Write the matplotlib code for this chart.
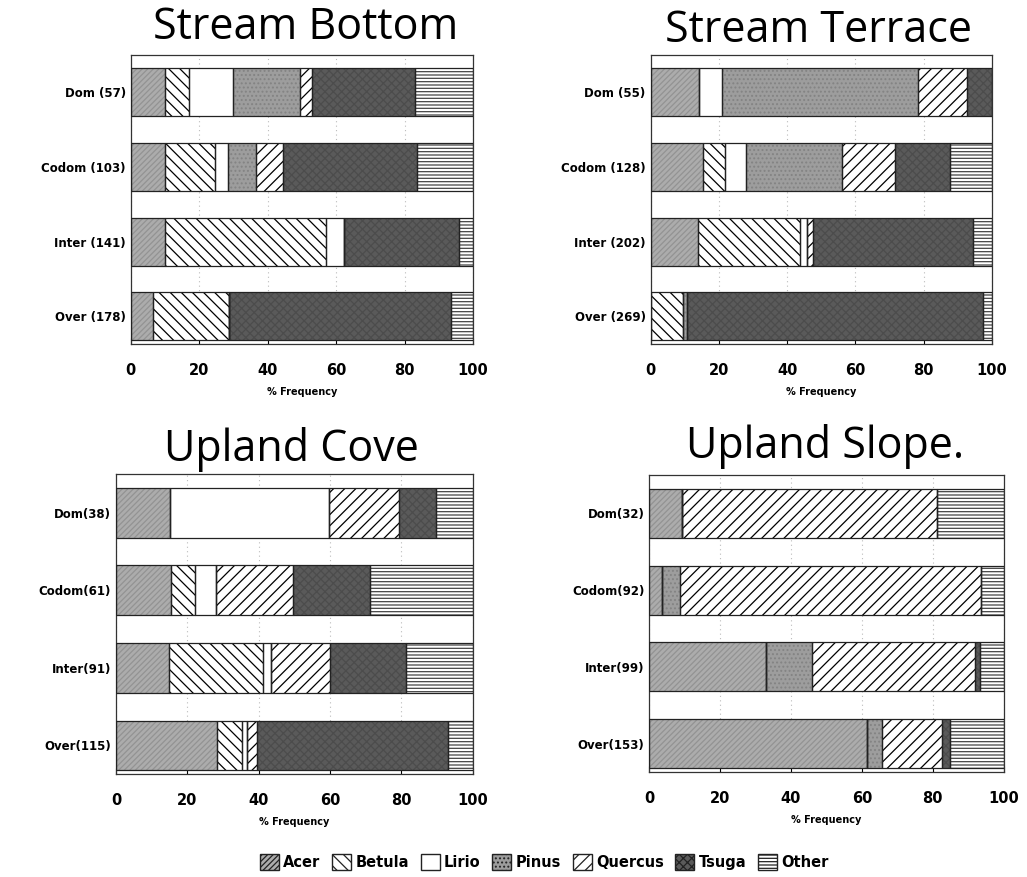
import matplotlib
matplotlib.use("Agg")
import matplotlib.pyplot as plt
from matplotlib.patches import Patch
import numpy as np

# species in stacking order
species = ["Acer", "Betula", "Lirio", "Pinus", "Quercus", "Tsuga", "Other"]

# rows are bottom to top: Over, Inter, Codom, Dom  (% frequency)
sb_labels = ["Over (178)", "Inter (141)", "Codom (103)", "Dom (57)"]
sb_acer    = [6.7, 10.0, 10.0, 10.0]
sb_betula  = [22.0, 47.0, 14.7, 7.0]
sb_lirio   = [0.0, 5.4, 3.9, 13.0]
sb_pinus   = [0.0, 0.0, 8.0, 19.5]
sb_quercus = [0.0, 0.0, 7.8, 3.5]
sb_tsuga   = [65.0, 33.6, 39.2, 30.0]
sb_other   = [6.3, 4.0, 16.4, 17.0]

st_labels = ["Over (269)", "Inter (202)", "Codom (128)", "Dom (55)"]
st_acer    = [0.0, 14.0, 15.3, 14.3]
st_betula  = [9.6, 29.8, 6.5, 0.0]
st_lirio   = [0.0, 1.9, 6.2, 6.5]
st_pinus   = [1.0, 0.0, 28.0, 57.4]
st_quercus = [0.0, 2.0, 15.6, 14.4]
st_tsuga   = [86.9, 46.8, 16.1, 7.4]
st_other   = [2.5, 5.5, 12.3, 0.0]

uc_labels = ["Over(115)", "Inter(91)", "Codom(61)", "Dom(38)"]
uc_acer    = [28.2, 14.9, 15.4, 15.0]
uc_betula  = [7.1, 26.4, 6.8, 0.0]
uc_lirio   = [1.3, 2.1, 5.8, 44.6]
uc_pinus   = [0.0, 0.0, 0.0, 0.0]
uc_quercus = [3.0, 16.6, 21.6, 19.9]
uc_tsuga   = [53.6, 21.3, 21.6, 10.3]
uc_other   = [6.8, 18.7, 28.8, 10.2]

us_labels = ["Over(153)", "Inter(99)", "Codom(92)", "Dom(32)"]
us_acer    = [61.4, 33.0, 3.5, 9.2]
us_betula  = [0.0, 0.0, 0.0, 0.0]
us_lirio   = [0.0, 0.0, 0.0, 0.0]
us_pinus   = [4.2, 13.0, 5.2, 0.0]
us_quercus = [16.9, 45.9, 84.8, 71.9]
us_tsuga   = [2.4, 1.4, 0.0, 0.0]
us_other   = [15.1, 6.7, 6.5, 18.9]

xticks = [0, 20, 40, 60, 80, 100]

# fill, hatch, hatch colour for each species
styles = {
    "Acer":    ("#acacac", "//////", "#939393"),
    "Betula":  ("white", "\\\\\\", "black"),
    "Lirio":   ("white", "", "black"),
    "Pinus":   ("#9d9d9d", "....", "#838383"),
    "Quercus": ("white", "///", "black"),
    "Tsuga":   ("#5a5a5a", "xxxx", "#4c4c4c"),
    "Other":   ("white", "-----", "#444444"),
}

plt.rcParams["hatch.linewidth"] = 0.9

fig = plt.figure(figsize=(10.27, 8.77), dpi=100)


def panel(rect, title, title_xy, labels, data):
    ax = fig.add_axes(rect)
    y = np.arange(len(labels))
    left = np.zeros(len(labels))
    ax.grid(axis="x", color="#bbbbbb", linestyle=(0, (1, 3)), linewidth=0.8)
    ax.set_axisbelow(True)
    for sp, vals in zip(species, data):
        vals = np.array(vals)
        face, hatch, hcol = styles[sp]
        ax.barh(y, vals, left=left, height=0.64, color=face, hatch=hatch,
                edgecolor=hcol, linewidth=0, zorder=2)
        ax.barh(y, vals, left=left, height=0.64, fill=False,
                edgecolor="#222222", linewidth=0.9, zorder=3)
        left = left + vals
    ax.set_xlim(0, 100)
    ax.set_ylim(-0.37, 3.5)
    ax.set_yticks(y)
    ax.set_yticklabels(labels, fontsize=8.5, fontweight="bold")
    ax.set_xticks(xticks)
    ax.set_xticklabels([str(t) for t in xticks], fontsize=10.5, fontweight="bold")
    ax.tick_params(axis="both", direction="in", length=4, width=0.8)
    ax.tick_params(axis="x", pad=14)
    ax.set_xlabel("% Frequency", fontsize=7, fontweight="bold", labelpad=6)
    for s in ax.spines.values():
        s.set_linewidth(0.9)
        s.set_color("#333333")
    fig.text(title_xy[0], title_xy[1], title, fontsize=31, family="Open Sans",
             ha="center", va="center")
    return ax


panel([0.1271, 0.6078, 0.3335, 0.3295], "Stream Bottom", (0.298, 0.968), sb_labels,
      [sb_acer, sb_betula, sb_lirio, sb_pinus, sb_quercus, sb_tsuga, sb_other])
panel([0.6334, 0.6078, 0.3325, 0.3295], "Stream Terrace", (0.797, 0.965), st_labels,
      [st_acer, st_betula, st_lirio, st_pinus, st_quercus, st_tsuga, st_other])
panel([0.1130, 0.1174, 0.3471, 0.3421], "Upland Cove", (0.284, 0.487), uc_labels,
      [uc_acer, uc_betula, uc_lirio, uc_pinus, uc_quercus, uc_tsuga, uc_other])
panel([0.6321, 0.1197, 0.3452, 0.3387], "Upland Slope.", (0.803, 0.491), us_labels,
      [us_acer, us_betula, us_lirio, us_pinus, us_quercus, us_tsuga, us_other])

handles = []
for sp in species:
    face, hatch, hcol = styles[sp]
    handles.append(Patch(facecolor=face, hatch=hatch, edgecolor="#222222", label=sp))
fig.legend(handles=handles, loc="center", bbox_to_anchor=(0.53, 0.017), ncol=7,
           frameon=False, handlelength=1.3, handleheight=1.3, handletextpad=0.3,
           columnspacing=0.8, prop={"size": 10.5, "weight": "bold"})

fig.savefig("out.png", dpi=100)
